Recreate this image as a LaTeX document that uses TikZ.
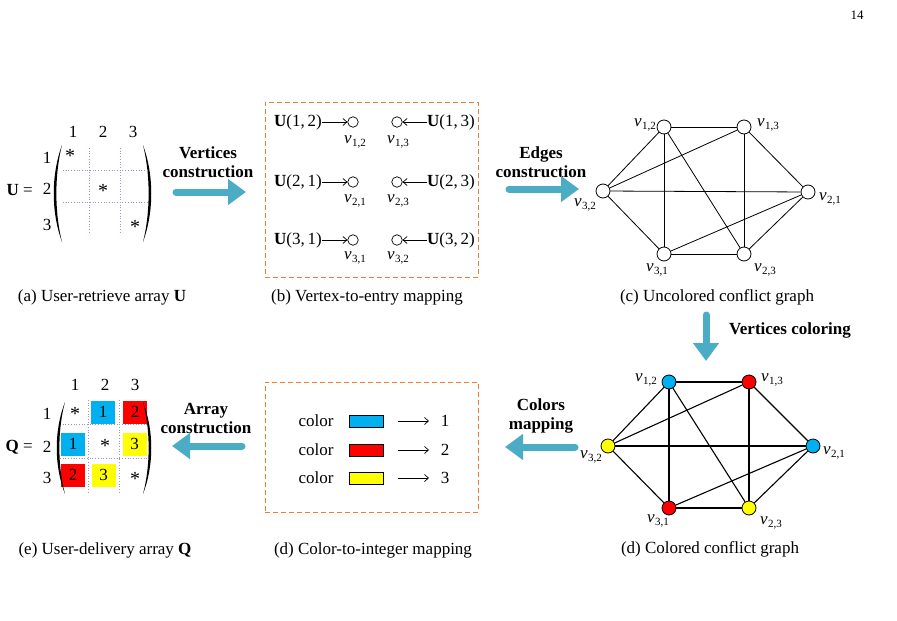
\documentclass[tikz,border=0pt]{standalone}
\usepackage{fontspec}
\setmainfont{Liberation Serif}
\usetikzlibrary{arrows.meta}
\definecolor{barrow}{HTML}{4BACC6}
\definecolor{orng}{HTML}{ED7D31}
\definecolor{cblue}{HTML}{00B0F0}
\definecolor{cred}{HTML}{FF0000}
\definecolor{cyel}{HTML}{FFFF00}
\definecolor{gridc}{HTML}{A090D0}
\newcommand{\vlab}[1]{{\itshape v}\kern0.3pt\raisebox{-3.5pt}{\fontsize{11}{11}\selectfont #1}}
\begin{document}
\begin{tikzpicture}[x=1pt,y=-1pt,
  every node/.style={font=\fontsize{17}{20}\selectfont, inner sep=0pt},
  boldtxt/.style={font=\fontsize{17}{20}\selectfont\bfseries, align=center},
  bigarrow/.style={draw=barrow, line width=7pt, -{Triangle[width=25pt,length=18pt]}, line cap=round},
  thinarrow/.style={-{Straight Barb[length=4pt,width=7pt]}, line width=0.7pt},
  vsmall/.style={circle, draw, line width=0.7pt, minimum size=10.5pt},
  gv/.style={circle, draw, line width=0.8pt, minimum size=14pt, fill=white},
  gedge/.style={line width=0.8pt},
  dashbox/.style={draw=orng, line width=1pt, dash pattern=on 5pt off 3pt},
  gridl/.style={draw=gridc, dotted, line width=0.7pt},
  cell/.style={minimum width=24pt, minimum height=23pt},
  ast/.style={font=\fontsize{20}{20}\selectfont},
  swatch/.style={draw, line width=0.6pt, minimum width=34pt, minimum height=12pt},
]
\useasboundingbox (0,0) rectangle (897,621);
\fill[white] (0,0) rectangle (897,621);

% page number
\node[font=\fontsize{13}{15}\selectfont] (pg) at (857,15) {14};

% ---------------- (a) U matrix
\node[anchor=east] (Ueq) at (33,190) {\textbf{U} =};
\foreach \c/\x in {1/73,2/103,3/133} \node (uc\c) at (\x,132) {\c};
\foreach \r/\y in {1/158,2/189,3/225} \node (ur\r) at (47,\y) {\r};
\fill (62,145) .. controls (51,175) and (51,212) .. (62,242) .. controls (54.5,212) and (54.5,175) .. (62,145);
\fill (143,145) .. controls (154,175) and (154,212) .. (143,242) .. controls (150.5,212) and (150.5,175) .. (143,145);
\draw[gridl] (89,148) -- (89,232);
\draw[gridl] (120,148) -- (120,232);
\draw[gridl] (63,170) -- (148,170);
\draw[gridl] (63,202) -- (148,202);
\node[ast] (ua1) at (70,156) {*};
\node[ast] (ua2) at (103,191) {*};
\node[ast] (ua3) at (135,227) {*};
\node (capa) at (102,297) {(a) User-retrieve array \textbf{U}};

% arrow 1
\node[boldtxt] (t1) at (208,162) {Vertices\\[-1pt]construction};
\coordinate (a1s) at (176,192);
\coordinate (a1e) at (246,192);
\draw[bigarrow] (a1s) -- (a1e);

% ---------------- (b) vertex-to-entry
\node[dashbox, minimum width=213pt, minimum height=175pt] (boxb) at (371.5,189.5) {};
\foreach \r/\a/\b/\y/\ly in {1/2/3/122/142, 2/1/3/182/201, 3/1/2/240/258} {
  \node[anchor=east] (uL\r) at (322,\y) {\textbf{U}(\r,\,\a)};
  \node[vsmall] (cL\r) at (353,\y) {};
  \node[vsmall] (cR\r) at (397,\y) {};
  \node[anchor=west] (uR\r) at (427,\y) {\textbf{U}(\r,\,\b)};
  \draw[thinarrow] (uL\r.east) -- (cL\r.west);
  \draw[thinarrow] (uR\r.west) -- (cR\r.east);
  \node (lL\r) at (355,\ly) {\vlab{\r,\a}};
  \node (lR\r) at (398,\ly) {\vlab{\r,\b}};
}
\node (capb) at (367,297) {(b) Vertex-to-entry mapping};

% arrow 2
\node[boldtxt] (t2) at (541,162) {Edges\\[-1pt]construction};
\coordinate (a2s) at (509,189);
\coordinate (a2e) at (579,189);
\draw[bigarrow] (a2s) -- (a2e);

% ---------------- (c) uncolored graph
\node[gv] (g12) at (664,127) {};
\node[gv] (g13) at (744,127) {};
\node[gv] (g21) at (808,192) {};
\node[gv] (g23) at (744,254) {};
\node[gv] (g31) at (664,254) {};
\node[gv] (g32) at (603,191) {};
\foreach \p/\q in {12/13,12/32,12/31,12/23,13/32,13/23,13/21,32/21,32/31,31/23,31/21,23/21}
  \draw[gedge] (g\p) -- (g\q);
\node (gl12) at (645,125) {\vlab{1,2}};
\node (gl13) at (768,125) {\vlab{1,3}};
\node (gl21) at (830,199) {\vlab{2,1}};
\node (gl23) at (765,270) {\vlab{2,3}};
\node (gl31) at (657,270) {\vlab{3,1}};
\node (gl32) at (585,205) {\vlab{3,2}};
\node (capc) at (717,297) {(c) Uncolored conflict graph};

% arrow down
\coordinate (a3s) at (706,315);
\coordinate (a3e) at (706,361);
\draw[bigarrow] (a3s) -- (a3e);
\node[boldtxt] (t3) at (790,330) {Vertices coloring};

% ---------------- (d) colored graph
\node[gv, fill=cblue] (h12) at (669,382) {};
\node[gv, fill=cred] (h13) at (749,382) {};
\node[gv, fill=cblue] (h21) at (813,446) {};
\node[gv, fill=cyel] (h23) at (749,508) {};
\node[gv, fill=cred] (h31) at (669,508) {};
\node[gv, fill=cyel] (h32) at (608,446) {};
\foreach \p/\q in {12/13,12/32,12/31,12/23,13/32,13/23,13/21,32/21,32/31,31/23,31/21,23/21}
  \draw[gedge, line width=1.1pt] (h\p) -- (h\q);
\node (hl12) at (646,380) {\vlab{1,2}};
\node (hl13) at (772,380) {\vlab{1,3}};
\node (hl21) at (834,453) {\vlab{2,1}};
\node (hl23) at (771,523) {\vlab{2,3}};
\node (hl31) at (658,521) {\vlab{3,1}};
\node (hl32) at (591,457) {\vlab{3,2}};
\node (capd2) at (710,549) {(d) Colored conflict graph};

% arrow 4 (left)
\node[boldtxt] (t4) at (541,416) {Colors\\[-1pt]mapping};
\coordinate (a4s) at (575,447);
\coordinate (a4e) at (505,447);
\draw[bigarrow] (a4s) -- (a4e);

% ---------------- (d) color-to-integer
\node[dashbox, minimum width=213pt, minimum height=130pt] (boxd) at (371.5,447) {};
\foreach \i/\col/\y in {1/cblue/421, 2/cred/450, 3/cyel/478} {
  \node (cw\i) at (316,\y) {color};
  \node[swatch, fill=\col] (sw\i) at (366,\y) {};
  \coordinate (ms\i) at (398,\y);
  \coordinate (me\i) at (429,\y);
  \draw[thinarrow] (ms\i) -- (me\i);
  \node (num\i) at (445,\y) {\i};
}
\node (capd) at (373,550) {(d) Color-to-integer mapping};

% arrow 5 (left)
\node[boldtxt] (t5) at (206,418) {Array\\[-1pt]construction};
\coordinate (a5s) at (242,446);
\coordinate (a5e) at (172,446);
\draw[bigarrow] (a5s) -- (a5e);

% ---------------- (e) Q matrix
\node[anchor=east] (Qeq) at (33,447) {\textbf{Q} =};
\foreach \c/\x in {1/75,2/105,3/135} \node (qc\c) at (\x,385) {\c};
\foreach \r/\y in {1/414,2/447,3/478} \node (qr\r) at (47,\y) {\r};
\node[cell, fill=cblue] (q12) at (103,412) {1};
\node[cell, fill=cred]  (q13) at (135,412) {2};
\node[cell, fill=cblue] (q21) at (73,444) {1};
\node[cell, fill=cyel]  (q23) at (134.5,444) {3};
\node[cell, fill=cred]  (q31) at (73,475) {2};
\node[cell, fill=cyel]  (q32) at (103.5,475) {3};
\node[ast] (qa1) at (75,414) {*};
\node[ast] (qa2) at (105,446) {*};
\node[ast] (qa3) at (135,479) {*};
\draw[gridl] (88,400) -- (88,492);
\draw[gridl] (119,400) -- (119,492);
\draw[gridl] (60,424) -- (148,424);
\draw[gridl] (60,458) -- (148,458);
\fill (65,402) .. controls (54,430) and (54,466) .. (65,494) .. controls (57.5,466) and (57.5,430) .. (65,402);
\fill (143,402) .. controls (154,430) and (154,466) .. (143,494) .. controls (150.5,466) and (150.5,430) .. (143,402);
\node (cape) at (105,550) {(e) User-delivery array \textbf{Q}};
\end{tikzpicture}
\end{document}
